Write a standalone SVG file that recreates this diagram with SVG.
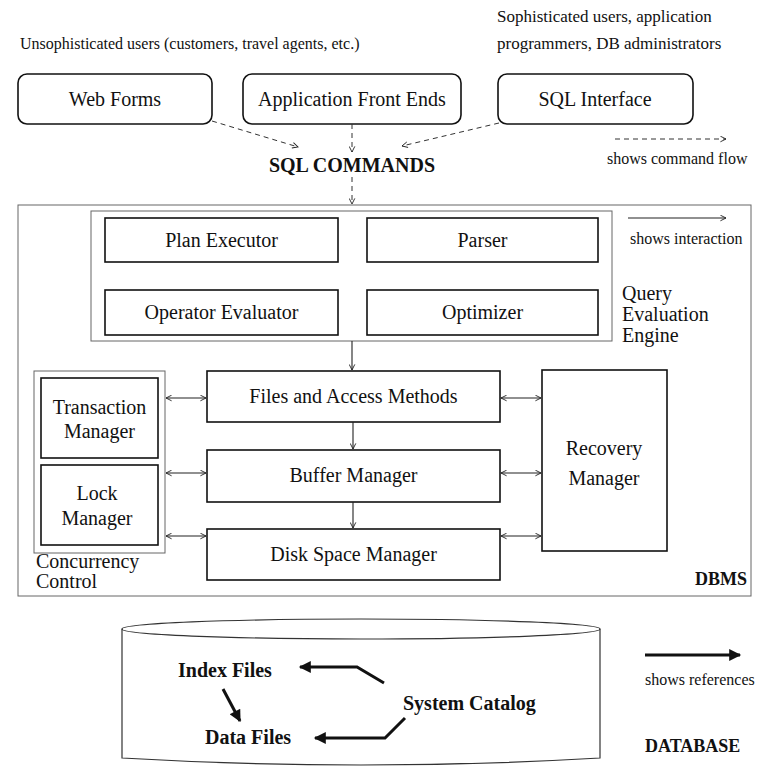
<svg xmlns="http://www.w3.org/2000/svg" width="767" height="768" viewBox="0 0 767 768">
<defs>
<style>
.t{font-family:"Liberation Serif","Times New Roman",serif;fill:#111}
.lbl{font-size:20px;text-anchor:middle}
.top{font-size:16px}
.leg{font-size:16px}
.b{font-weight:bold}
.box{fill:#fff;stroke:#111;stroke-width:1.6}
.thin{fill:none;stroke:#666;stroke-width:1}
.dash{fill:none;stroke:#333;stroke-width:1;stroke-dasharray:5 4}
.line{fill:none;stroke:#222;stroke-width:1.1}
.thick{fill:none;stroke:#111;stroke-width:3}
</style>
<marker id="ah" viewBox="0 0 10 10" refX="9" refY="5" markerWidth="7" markerHeight="7" orient="auto-start-reverse" markerUnits="userSpaceOnUse"><path d="M1,1 L9,5 L1,9" fill="none" stroke="#222" stroke-width="1.3"/></marker>
<marker id="big" viewBox="0 0 10 10" refX="9" refY="5" markerWidth="16" markerHeight="12" orient="auto" markerUnits="userSpaceOnUse"><path d="M0,0 L10,5 L0,10 Z" fill="#111"/></marker>
</defs>
<rect width="767" height="768" fill="#fff"/>

<text class="t top" x="20" y="49">Unsophisticated users (customers, travel agents, etc.)</text>
<text class="t" font-size="17" x="497" y="22">Sophisticated users, application</text>
<text class="t" font-size="17" x="497" y="49">programmers, DB administrators</text>

<g id="web-forms"><rect class="box" x="18" y="74" width="194" height="50" rx="9"/><text class="t lbl" x="115" y="106">Web Forms</text></g>
<g id="app-front-ends"><rect class="box" x="243" y="74" width="218" height="50" rx="9"/><text class="t lbl" x="352" y="106">Application Front Ends</text></g>
<g id="sql-interface"><rect class="box" x="498" y="74" width="195" height="50" rx="9"/><text class="t lbl" x="595" y="106">SQL Interface</text></g>
<g id="sql-commands"><text class="t lbl b" x="352" y="172" font-size="21">SQL COMMANDS</text></g>

<g id="legend">
<text class="t leg" x="607" y="164">shows command flow</text>
<text class="t leg" x="630" y="244">shows interaction</text>
<text class="t leg" x="645" y="685">shows references</text>
</g>

<g id="dbms"><rect class="thin" x="18" y="205" width="733" height="391"/><text class="t b" x="747" y="585" font-size="18" text-anchor="end">DBMS</text></g>
<g id="query-evaluation-engine"><rect class="thin" x="91" y="211" width="521" height="130"/>
<text class="t" font-size="20" x="622" y="300">Query</text><text class="t" font-size="20" x="622" y="321">Evaluation</text><text class="t" font-size="20" x="622" y="342">Engine</text></g>
<g id="plan-executor"><rect class="box" x="105" y="218" width="233" height="44"/><text class="t lbl" x="221.5" y="247">Plan Executor</text></g>
<g id="parser"><rect class="box" x="367" y="218" width="231" height="44"/><text class="t lbl" x="482.5" y="247">Parser</text></g>
<g id="operator-evaluator"><rect class="box" x="105" y="290" width="233" height="45"/><text class="t lbl" x="221.5" y="319">Operator Evaluator</text></g>
<g id="optimizer"><rect class="box" x="367" y="290" width="231" height="45"/><text class="t lbl" x="482.5" y="319">Optimizer</text></g>

<g id="concurrency-control"><rect class="thin" x="34" y="371" width="131" height="182"/><text class="t" font-size="20" x="36" y="568">Concurrency</text><text class="t" font-size="20" x="36" y="588">Control</text></g>
<g id="transaction-manager"><rect class="box" x="41" y="378" width="117" height="80"/><text class="t lbl" x="99.5" y="414">Transaction</text><text class="t lbl" x="99.5" y="438">Manager</text></g>
<g id="lock-manager"><rect class="box" x="41" y="465" width="117" height="80"/><text class="t lbl" x="97" y="500">Lock</text><text class="t lbl" x="97" y="525">Manager</text></g>
<g id="files-access-methods"><rect class="box" x="207" y="371" width="293" height="51"/><text class="t lbl" x="353.5" y="403">Files and Access Methods</text></g>
<g id="buffer-manager"><rect class="box" x="207" y="450" width="293" height="52"/><text class="t lbl" x="353.5" y="482">Buffer Manager</text></g>
<g id="disk-space-manager"><rect class="box" x="207" y="529" width="293" height="51"/><text class="t lbl" x="353.5" y="561">Disk Space Manager</text></g>
<g id="recovery-manager"><rect class="box" x="542" y="370" width="125" height="181"/><text class="t lbl" x="604" y="455">Recovery</text><text class="t lbl" x="604" y="485">Manager</text></g>

<g id="database"><ellipse cx="361" cy="629" rx="239" ry="10" fill="none" stroke="#333" stroke-width="1.2"/><path d="M122,629 L122,758 Q361,772 600,758 L600,629" fill="none" stroke="#333" stroke-width="1.2"/>
<text class="t b" x="645" y="752" font-size="18">DATABASE</text></g>
<g id="index-files"><text class="t b" font-size="20" x="178" y="677">Index Files</text></g>
<g id="data-files"><text class="t b" font-size="20" x="205" y="744">Data Files</text></g>
<g id="system-catalog"><text class="t b" font-size="20" x="403" y="710">System Catalog</text></g>

<g id="connectors">
<path class="dash" d="M212,121 L298,147" marker-end="url(#ah)"/>
<path class="dash" d="M352,124 L352,152" marker-end="url(#ah)"/>
<path class="dash" d="M499,123 L402,146" marker-end="url(#ah)"/>
<path class="dash" d="M352,177 L352,204" marker-end="url(#ah)"/>
<path class="dash" d="M615,139 L726,139" marker-end="url(#ah)"/>
<path class="line" d="M628,218 L726,218" marker-end="url(#ah)"/>
<path class="line" d="M352,341 L352,370" marker-end="url(#ah)"/>
<path class="line" d="M353,422 L353,449" marker-end="url(#ah)"/>
<path class="line" d="M353,502 L353,528" marker-end="url(#ah)"/>
<path class="line" d="M166,398 L206,398" marker-start="url(#ah)" marker-end="url(#ah)"/>
<path class="line" d="M166,473 L206,473" marker-start="url(#ah)" marker-end="url(#ah)"/>
<path class="line" d="M166,536 L206,536" marker-start="url(#ah)" marker-end="url(#ah)"/>
<path class="line" d="M501,398 L541,398" marker-start="url(#ah)" marker-end="url(#ah)"/>
<path class="line" d="M501,473 L541,473" marker-start="url(#ah)" marker-end="url(#ah)"/>
<path class="line" d="M501,536 L541,536" marker-start="url(#ah)" marker-end="url(#ah)"/>
<path class="thick" d="M384,683 L357,667 L300,667" marker-end="url(#big)"/>
<path class="thick" d="M223,689 L240,721" marker-end="url(#big)"/>
<path class="thick" d="M405,718 L385,738 L315,738" marker-end="url(#big)"/>
<path class="thick" d="M645,655 L740,655" marker-end="url(#big)"/>
</g>
</svg>
